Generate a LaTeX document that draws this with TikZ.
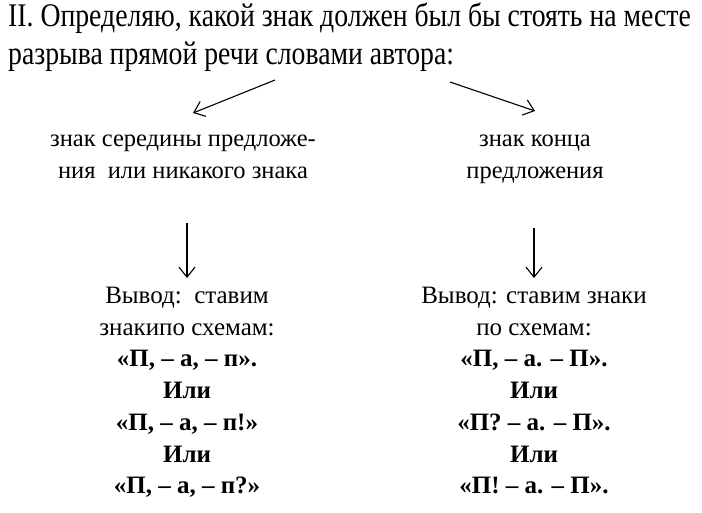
\documentclass[tikz,border=0pt]{standalone}
\usepackage{fontspec}
\setmainfont{Liberation Serif}
\newfontfamily\titlefont[FakeStretch=0.84]{Liberation Serif}
\usetikzlibrary{arrows.meta,positioning}

\begin{document}
\begin{tikzpicture}[x=1pt,y=-1pt,
    arr/.style={-{Straight Barb[length=10pt,width=16pt]},line width=1.1pt},
    titletext/.style={align=left,inner sep=0pt,font=\titlefont\fontsize{33}{38}\selectfont},
    headtext/.style={align=center,inner sep=0pt,font=\fontsize{24.5}{32}\selectfont},
    restext/.style={align=center,inner sep=0pt,font=\fontsize{25}{31.7}\selectfont}]
  \useasboundingbox (0,0) rectangle (702,512);
  % title
  \node[titletext,anchor=north west] (title) at (8,3)
    {II. Определяю, какой знак должен был бы стоять на месте\\
     разрыва прямой речи словами автора:};
  % two cases
  \node[headtext,anchor=north] (lhead) at (183,135)
    {знак середины предложе-\\ния~~или никакого знака};
  \node[headtext,anchor=north] (rhead) at (535,135)
    {знак конца\\предложения};
  % conclusions
  \node[restext,anchor=north] (lres) at (187,287)
    {Вывод:~~ставим\\знакипо схемам:\\
     \textbf{«П, – а, – п».}\\\textbf{Или}\\
     \textbf{«П, – а, – п!»}\\\textbf{Или}\\
     \textbf{«П, – а, – п?»}};
  \node[restext,anchor=north] (rres) at (534,287)
    {Вывод: ставим знаки\\по схемам:\\
     \textbf{«П, – а. – П».}\\\textbf{Или}\\
     \textbf{«П? – а. – П».}\\\textbf{Или}\\
     \textbf{«П! – а. – П».}};
  % arrows
  \coordinate (lstart) at (275,80);
  \coordinate (lend) at (193,113);
  \coordinate (rstart) at (450,82);
  \coordinate (rend) at (535,111);
  \draw[arr] (lstart) -- (lend);
  \draw[arr] (rstart) -- (rend);
  \draw[arr,shorten <=44pt,shorten >=9pt] (lhead.south -| lres.north) -- (lres.north);
  \draw[arr,shorten <=44pt,shorten >=9pt] (rhead.south -| rres.north) -- (rres.north);
\end{tikzpicture}
\end{document}
